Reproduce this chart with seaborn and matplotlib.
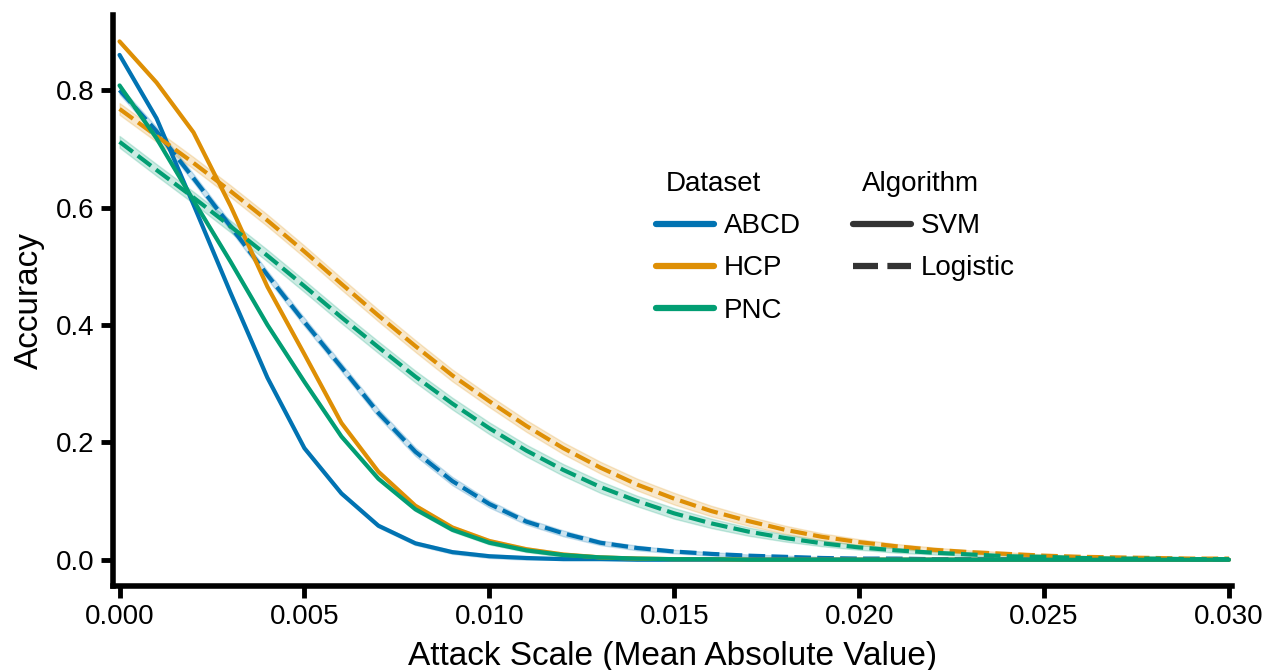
import matplotlib.pyplot as plt
import pandas as pd
import seaborn as sns

# attack scale grid (mean absolute value of the perturbation)
attack_scale = [0.000, 0.001, 0.002, 0.003, 0.004, 0.005, 0.006, 0.007, 0.008, 0.009,
                0.010, 0.011, 0.012, 0.013, 0.014, 0.015, 0.016, 0.017, 0.018, 0.019,
                0.020, 0.021, 0.022, 0.023, 0.024, 0.025, 0.026, 0.027, 0.028, 0.029,
                0.030]

datasets = ["ABCD", "HCP", "PNC"]
algorithms = ["SVM", "Logistic"]

# mean accuracy
abcd_svm = [0.860, 0.752, 0.605, 0.455, 0.310, 0.190, 0.113, 0.058, 0.028, 0.013,
            0.006, 0.003, 0.001, 0.001, 0.000, 0.000, 0.000, 0.000, 0.000, 0.000,
            0.000, 0.000, 0.000, 0.000, 0.000, 0.000, 0.000, 0.000, 0.000, 0.000,
            0.000]
hcp_svm = [0.883, 0.813, 0.728, 0.603, 0.465, 0.350, 0.233, 0.150, 0.092, 0.055,
           0.032, 0.018, 0.009, 0.004, 0.002, 0.001, 0.001, 0.000, 0.000, 0.000,
           0.000, 0.000, 0.000, 0.000, 0.000, 0.000, 0.000, 0.000, 0.000, 0.000,
           0.000]
pnc_svm = [0.808, 0.718, 0.612, 0.508, 0.400, 0.303, 0.210, 0.138, 0.086, 0.051,
           0.029, 0.016, 0.008, 0.004, 0.002, 0.001, 0.001, 0.000, 0.000, 0.000,
           0.000, 0.000, 0.000, 0.000, 0.000, 0.000, 0.000, 0.000, 0.000, 0.000,
           0.000]
abcd_log = [0.800, 0.730, 0.650, 0.568, 0.485, 0.405, 0.328, 0.250, 0.184, 0.134,
            0.095, 0.065, 0.045, 0.029, 0.020, 0.014, 0.010, 0.007, 0.005, 0.003,
            0.002, 0.002, 0.001, 0.001, 0.001, 0.000, 0.000, 0.000, 0.000, 0.000,
            0.000]
hcp_log = [0.768, 0.722, 0.676, 0.628, 0.578, 0.525, 0.470, 0.416, 0.364, 0.314,
           0.270, 0.228, 0.190, 0.157, 0.128, 0.104, 0.083, 0.066, 0.051, 0.039,
           0.030, 0.023, 0.017, 0.013, 0.010, 0.007, 0.005, 0.004, 0.003, 0.002,
           0.002]
pnc_log = [0.712, 0.664, 0.617, 0.568, 0.518, 0.466, 0.413, 0.362, 0.312, 0.266,
           0.224, 0.186, 0.153, 0.124, 0.100, 0.079, 0.062, 0.048, 0.037, 0.028,
           0.021, 0.016, 0.012, 0.009, 0.006, 0.005, 0.003, 0.002, 0.002, 0.001,
           0.001]

# approximate half-width of the shaded interval
svm_band = 0.003
abcd_log_band = [0.007, 0.007, 0.007, 0.007, 0.007, 0.007, 0.007, 0.007, 0.007, 0.007,
                 0.006, 0.005, 0.005, 0.004, 0.004, 0.003, 0.003, 0.002, 0.002, 0.002,
                 0.001, 0.001, 0.001, 0.001, 0.001, 0.001, 0.001, 0.001, 0.001, 0.001,
                 0.001]
hcp_log_band = [0.010, 0.010, 0.010, 0.010, 0.010, 0.010, 0.010, 0.010, 0.010, 0.010,
                0.010, 0.010, 0.010, 0.010, 0.010, 0.010, 0.009, 0.008, 0.007, 0.006,
                0.005, 0.004, 0.004, 0.003, 0.003, 0.002, 0.002, 0.002, 0.002, 0.001,
                0.001]
pnc_log_band = [0.010, 0.010, 0.010, 0.010, 0.010, 0.010, 0.010, 0.010, 0.010, 0.010,
                0.010, 0.010, 0.010, 0.010, 0.009, 0.009, 0.008, 0.007, 0.006, 0.005,
                0.004, 0.004, 0.003, 0.003, 0.002, 0.002, 0.002, 0.001, 0.001, 0.001,
                0.001]

series = [
    ("ABCD", "SVM", abcd_svm, [svm_band] * len(attack_scale)),
    ("HCP", "SVM", hcp_svm, [svm_band] * len(attack_scale)),
    ("PNC", "SVM", pnc_svm, [svm_band] * len(attack_scale)),
    ("ABCD", "Logistic", abcd_log, abcd_log_band),
    ("HCP", "Logistic", hcp_log, hcp_log_band),
    ("PNC", "Logistic", pnc_log, pnc_log_band),
]

# lower edge / mean / upper edge per point -> seaborn draws median line + min-max band
rows = []
for ds, algo, vals, bands in series:
    for x, v, hw in zip(attack_scale, vals, bands):
        for acc in (max(v - hw, 0.0), v, v + hw):
            rows.append({"scale": x, "acc": acc, "Dataset": ds, "Algorithm": algo})
df = pd.DataFrame(rows)

sns.set_theme(style="ticks")
plt.rcParams["font.family"] = ["Liberation Sans", "DejaVu Sans"]
plt.rcParams["text.color"] = "black"
plt.rcParams["axes.labelcolor"] = "black"
plt.rcParams["xtick.color"] = "black"
plt.rcParams["ytick.color"] = "black"

fig, ax = plt.subplots(figsize=(12.7, 6.7), dpi=100)
fig.subplots_adjust(left=0.089, right=0.970, bottom=0.126, top=0.9776)

sns.lineplot(
    data=df, x="scale", y="acc",
    hue="Dataset", style="Algorithm",
    hue_order=datasets, style_order=algorithms,
    palette="colorblind", estimator="median", errorbar=("pi", 100),
    linewidth=3, ax=ax,
)

ax.set_xlim(-0.000176, 0.03008)
ax.set_ylim(-0.044, 0.928)
ax.set_xticks([0.000, 0.005, 0.010, 0.015, 0.020, 0.025, 0.030])
ax.set_xticklabels(["0.000", "0.005", "0.010", "0.015", "0.020", "0.025", "0.030"])
ax.set_yticks([0.0, 0.2, 0.4, 0.6, 0.8])
ax.set_xlabel("Attack Scale (Mean Absolute Value)", fontsize=24, labelpad=8)
ax.set_ylabel("Accuracy", fontsize=24, labelpad=8)
ax.tick_params(labelsize=20, width=3.5, length=8.5, pad=5)
for side in ["left", "bottom"]:
    ax.spines[side].set_linewidth(4)
    ax.spines[side].set_color("black")
sns.despine(ax=ax)

sns.move_legend(
    ax, "upper left", bbox_to_anchor=(0.463, 0.77), ncol=2,
    frameon=False, title=None, fontsize=20,
    handlelength=2.1, handletextpad=0.35, labelspacing=0.58, columnspacing=1.85,
)
leg = ax.get_legend()
for line in leg.get_lines():
    line.set_linewidth(4.5)
# make "Dataset" / "Algorithm" look like sub-titles (no handle space)
for col in leg._legend_handle_box.get_children():
    for row in col.get_children():
        draw_area, text_area = row.get_children()
        if text_area.get_children()[0].get_text() in ("Dataset", "Algorithm"):
            draw_area.set_width(0)

fig.savefig("out.png", dpi=100)
